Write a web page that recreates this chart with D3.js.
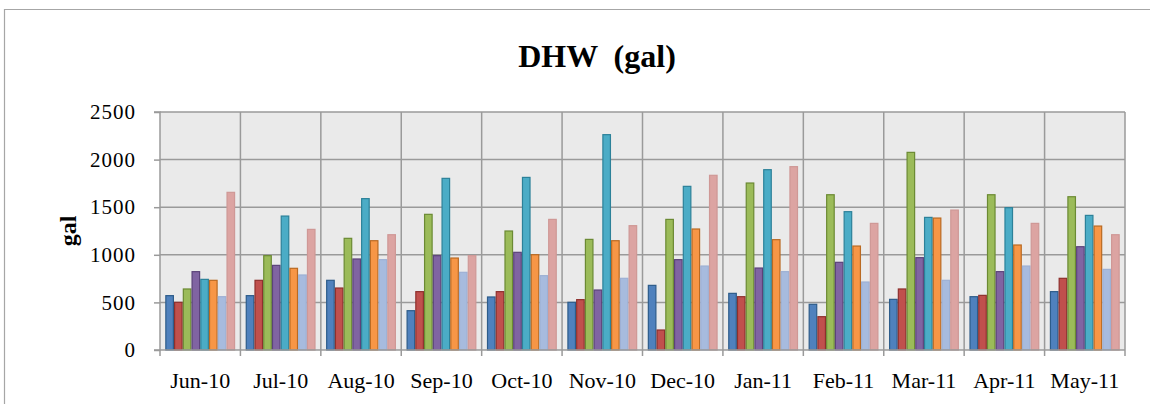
<!DOCTYPE html>
<html>
<head>
<meta charset="utf-8">
<script src="https://cdn.jsdelivr.net/npm/d3@7"></script>
<style>
  html, body { margin: 0; padding: 0; background: #fff; }
  svg { display: block; }
  text { font-family: "Liberation Serif", "Times New Roman", serif; fill: #000; }
</style>
</head>
<body>
<script>
const months = ["Jun-10","Jul-10","Aug-10","Sep-10","Oct-10","Nov-10","Dec-10","Jan-11","Feb-11","Mar-11","Apr-11","May-11"];
const seriesNames = ["S1","S2","S3","S4","S5","S6","S7","S8"];
const s1 = [571, 571, 732, 413, 557, 501, 679, 595, 480, 532, 560, 613];
const s2 = [501, 732, 651, 613, 613, 529, 210, 560, 350, 641, 574, 753];
const s3 = [641, 991, 1173, 1425, 1250, 1162, 1372, 1754, 1631, 2076, 1631, 1610];
const s4 = [823, 889, 956, 991, 1026, 630, 949, 861, 921, 970, 823, 1085];
const s5 = [742, 1407, 1590, 1803, 1813, 2262, 1719, 1894, 1453, 1393, 1495, 1414];
const s6 = [732, 858, 1148, 966, 1001, 1148, 1271, 1159, 1092, 1386, 1103, 1302];
const s7 = [560, 788, 949, 816, 781, 753, 882, 823, 714, 732, 882, 847];
const s8 = [1656, 1267, 1211, 991, 1372, 1306, 1835, 1926, 1330, 1470, 1330, 1211];
const seriesValues = [s1, s2, s3, s4, s5, s6, s7, s8];
const yTicks = [0, 500, 1000, 1500, 2000, 2500];
const fills = ["#4F81BD","#C0504D","#9BBB59","#8064A2","#4BACC6","#F79646","#A7BBDE","#DCA4A2"];
const strokes = ["#2D5C8A","#8E302D","#6B8A33","#5B437A","#2C8199","#BA6A22","#9DB0D4","#CF9896"];

const W = 1150, H = 404;
const svg = d3.select("body").append("svg").attr("width", W).attr("height", H);

// outer chart frame (cropped at right and bottom)
svg.append("path").attr("d", "M4.5,404 L4.5,9.5 L1150,9.5")
  .attr("fill", "none").attr("stroke", "#A6A6A6").attr("stroke-width", 1.2);

const pLeft = 160, pRight = 1125, pTop = 112, pBottom = 350;

const x = d3.scaleBand().domain(months).range([pLeft, pRight]).padding(0);
const xs = d3.scaleBand().domain(seriesNames).range([0, x.bandwidth()]).paddingInner(0).paddingOuter(0.6);
const y = d3.scaleLinear().domain([0, 2500]).range([pBottom, pTop]);

// plot background
svg.append("rect").attr("x", pLeft).attr("y", pTop).attr("width", pRight - pLeft).attr("height", pBottom - pTop)
  .attr("fill", "#EAEAEA");

// horizontal gridlines
svg.append("g").selectAll("line").data(yTicks.slice(1)).join("line")
  .attr("x1", pLeft).attr("x2", pRight)
  .attr("y1", d => y(d)).attr("y2", d => y(d))
  .attr("stroke", "#9A9A9A").attr("stroke-width", 1.5);

// vertical gridlines at category boundaries
const bounds = months.map(m => x(m)).concat([pRight]);
svg.append("g").selectAll("line").data(bounds.slice(1)).join("line")
  .attr("x1", d => d).attr("x2", d => d)
  .attr("y1", pTop).attr("y2", pBottom)
  .attr("stroke", "#9A9A9A").attr("stroke-width", 1.5);

// bars
const groups = svg.append("g").selectAll("g").data(months).join("g")
  .attr("transform", d => `translate(${x(d)},0)`);
groups.selectAll("rect").data((m, i) => seriesNames.map((s, j) => ({ s, j, v: seriesValues[j][i] })))
  .join("rect")
  .attr("x", d => xs(d.s) + 0.6)
  .attr("width", xs.bandwidth() - 1.2)
  .attr("y", d => y(d.v))
  .attr("height", d => pBottom - y(d.v))
  .attr("fill", d => fills[d.j])
  .attr("stroke", d => strokes[d.j])
  .attr("stroke-width", 1.2);

// y axis
const yAxis = d3.axisLeft(y).tickValues(yTicks).tickSize(6).tickPadding(18).tickFormat(d3.format("d"));
const ga = svg.append("g").attr("transform", `translate(${pLeft},0)`).call(yAxis);
ga.select(".domain").attr("stroke", "#9A9A9A").attr("stroke-width", 1.5).attr("d", `M-6,${pTop}H0V${pBottom}H-6`);
ga.selectAll(".tick line").attr("stroke", "#9A9A9A").attr("stroke-width", 1.5);
ga.selectAll(".tick text").attr("font-size", 21).style("letter-spacing", "1px")
  .attr("font-family", "Liberation Serif, serif").attr("fill", "#000");

// x axis
const xAxis = d3.axisBottom(x).tickSize(0).tickPadding(22);
const gx = svg.append("g").attr("transform", `translate(0,${pBottom})`).call(xAxis);
gx.select(".domain").attr("stroke", "#9A9A9A").attr("stroke-width", 1.5).attr("d", `M${pLeft},0H${pRight}`);
gx.selectAll(".tick text").attr("font-size", 22).attr("font-family", "Liberation Serif, serif").attr("fill", "#000");
svg.append("g").selectAll("line").data(bounds).join("line")
  .attr("x1", d => d).attr("x2", d => d).attr("y1", pBottom).attr("y2", pBottom + 6)
  .attr("stroke", "#9A9A9A").attr("stroke-width", 1.5);

// title
svg.append("text").attr("x", 597).attr("y", 67).attr("text-anchor", "middle")
  .attr("font-size", 32).attr("font-weight", "bold").style("white-space", "pre")
  .text("DHW  (gal)");

// y axis title
svg.append("text").attr("transform", `translate(76,${(pTop + pBottom) / 2}) rotate(-90)`)
  .attr("text-anchor", "middle").attr("font-size", 24).attr("font-weight", "bold")
  .text("gal");
</script>
</body>
</html>
